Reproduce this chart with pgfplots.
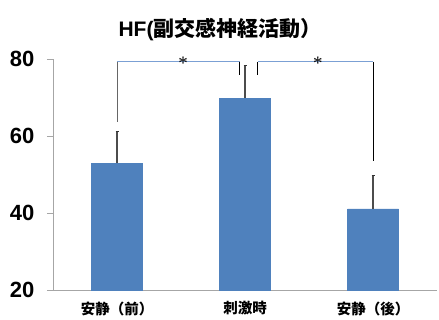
\documentclass[border=0pt]{standalone}
\usepackage{fontspec}
\setmainfont{Liberation Sans}
\newfontfamily\jp{Noto Sans CJK JP}
\newfontfamily\serif{Liberation Serif}
\usepackage{pgfplots}
\pgfplotsset{compat=1.18}
\definecolor{barblue}{HTML}{4F81BD}
\definecolor{axgray}{HTML}{A6A6A6}
\definecolor{brkblue}{HTML}{7BA0D4}
\begin{document}
\begin{tikzpicture}
\path[use as bounding box] (-53pt,-30pt) rectangle (386pt,290pt);
\begin{axis}[
  scale only axis,
  width=384pt, height=230.7pt,
  xmin=0.5, xmax=3.5,
  ymin=20, ymax=80,
  axis lines*=left,
  axis line style={axgray, line width=0.9pt},
  tick align=outside,
  xtick={1,2,3},
  xticklabels={安静（前）,刺激時,安静（後）},
  xticklabel style={font=\jp\bfseries\fontsize{14.5}{16}\selectfont, yshift=-2pt},
  x tick style={draw=none},
  minor xtick={0.5,1.5,2.5,3.5},
  minor x tick style={axgray, line width=0.9pt},
  minor tick length=4pt,
  ytick={20,40,60,80},
  y tick style={axgray, line width=0.9pt},
  major tick length=6pt,
  yticklabel style={font=\bfseries\fontsize{22}{24}\selectfont, xshift=-9pt},
  /pgf/number format/assume math mode=true,
  clip=false,
]
\addplot[ybar, bar width=51pt, fill=barblue, draw=barblue,
  error bars/.cd, y dir=plus, y explicit,
  error bar style={black!70, line width=1.1pt},
  error mark options={black!80, line width=0.8pt, mark size=1.5pt, rotate=90}]
  coordinates {(1,52.9) +- (0,8.3) (2,69.9) +- (0,8.5) (3,41.1) +- (0,8.6)};

% significance brackets
\draw[black!60, line width=1pt] (axis cs:1,79.3) -- (axis cs:1,63.7);
\draw[brkblue, line width=1pt] (axis cs:1,79.3) -- (axis cs:1.96,79.3);
\draw[black, line width=0.8pt] (axis cs:1.96,79.3) -- (axis cs:1.96,75.9);
\draw[black, line width=0.8pt] (axis cs:2.10,79.3) -- (axis cs:2.10,75.9);
\draw[brkblue, line width=1pt] (axis cs:2.10,79.3) -- (axis cs:3.0,79.3);
\draw[black, line width=0.8pt] (axis cs:3.0,79.3) -- (axis cs:3.0,53.5);
\node[font=\serif\fontsize{19}{19}\selectfont, inner sep=0pt] at (axis cs:1.516,79.0) {*};
\node[font=\serif\fontsize{19}{19}\selectfont, inner sep=0pt] at (axis cs:2.57,79.0) {*};

\node[font=\bfseries\fontsize{21}{23}\selectfont, anchor=center] at (rel axis cs:0.435,1.13) {HF(\jp 副交感神経活動）};
\end{axis}
\end{tikzpicture}
\end{document}
